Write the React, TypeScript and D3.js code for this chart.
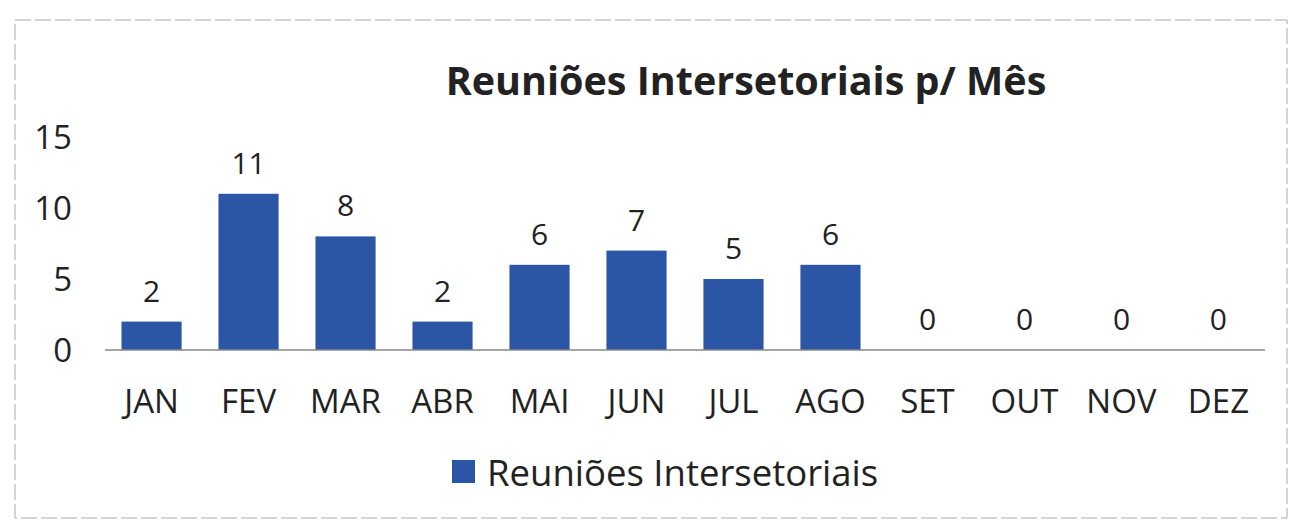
import React, { useEffect, useRef } from 'react';
import * as d3 from 'd3';

const months = ['JAN', 'FEV', 'MAR', 'ABR', 'MAI', 'JUN', 'JUL', 'AGO', 'SET', 'OUT', 'NOV', 'DEZ'];
const reunioes = [2, 11, 8, 2, 6, 7, 5, 6, 0, 0, 0, 0];
const yTicks = [0, 5, 10, 15];
const seriesName = 'Reuniões Intersetoriais';
const title = 'Reuniões Intersetoriais p/ Mês';

const BarChart = () => {
  const container = useRef(null);
  const width = 1291;
  const height = 526;

  const margins = { l: 105, r: 26, t: 137, b: 176 };
  const plotwidth = width - margins.l - margins.r;
  const plotheight = height - margins.t - margins.b;
  const barColor = '#2b56a6';
  const font = '"Open Sans", sans-serif';

  useEffect(() => {
    d3.select('body').style('margin', '0');

    const svg = d3
      .select(container.current)
      .selectAll('svg')
      .data([0])
      .join('svg')
      .attr('width', width)
      .attr('height', height)
      .style('display', 'block')
      .style('font-family', font);

    svg
      .selectAll('.frame')
      .data([0])
      .join('rect')
      .attr('class', 'frame')
      .attr('x', 15)
      .attr('y', 20)
      .attr('width', 1272)
      .attr('height', 498)
      .style('fill', 'none')
      .style('stroke', '#aaa')
      .style('stroke-dasharray', '16 4');

    const xScale = d3
      .scaleBand()
      .domain(months)
      .range([0, plotwidth])
      .paddingInner(0.38)
      .paddingOuter(0.17);

    const yScale = d3.scaleLinear().domain([0, 15]).range([plotheight, 0]);

    const plotg = svg
      .selectAll('.plotg')
      .data([0])
      .join('g')
      .attr('class', 'plotg')
      .attr('transform', `translate(${margins.l},${margins.t})`);

    // y labels (no axis line, like the excel chart)
    plotg
      .selectAll('.ytick')
      .data(yTicks)
      .join('text')
      .attr('class', 'ytick')
      .attr('x', -33)
      .attr('y', d => yScale(d))
      .attr('dy', '0.36em')
      .attr('text-anchor', 'end')
      .style('font-size', '33px')
      .style('fill', '#222')
      .text(d => d);

    plotg
      .selectAll('.bar')
      .data(reunioes)
      .join('rect')
      .attr('class', 'bar')
      .attr('x', (d, i) => xScale(months[i]))
      .attr('y', d => yScale(d))
      .attr('width', xScale.bandwidth())
      .attr('height', d => plotheight - yScale(d))
      .style('fill', barColor);

    plotg
      .selectAll('.baseline')
      .data([0])
      .join('line')
      .attr('class', 'baseline')
      .attr('x1', 0)
      .attr('x2', plotwidth)
      .attr('y1', plotheight)
      .attr('y2', plotheight)
      .style('stroke', '#888')
      .style('stroke-width', 1.5);

    plotg
      .selectAll('.vlabel')
      .data(reunioes)
      .join('text')
      .attr('class', 'vlabel')
      .attr('x', (d, i) => xScale(months[i]) + xScale.bandwidth() / 2)
      .attr('y', d => yScale(d) - 20)
      .attr('text-anchor', 'middle')
      .style('font-size', '30px')
      .style('fill', '#222')
      .text(d => d);

    plotg
      .selectAll('.xlabel')
      .data(months)
      .join('text')
      .attr('class', 'xlabel')
      .attr('x', d => xScale(d) + xScale.bandwidth() / 2)
      .attr('y', plotheight + 63)
      .attr('text-anchor', 'middle')
      .style('font-size', '33px')
      .style('fill', '#222')
      .text(d => d);

    svg
      .selectAll('.title-text')
      .data([0])
      .join('text')
      .attr('class', 'title-text')
      .attr('x', 746)
      .attr('y', 95)
      .attr('text-anchor', 'middle')
      .style('font-size', '39.5px')
      .style('font-weight', 'bold')
      .style('fill', '#222')
      .text(title);

    const legendg = svg
      .selectAll('.legendg')
      .data([0])
      .join('g')
      .attr('class', 'legendg')
      .attr('transform', `translate(452,460)`);
    legendg
      .selectAll('rect')
      .data([0])
      .join('rect')
      .attr('width', 23)
      .attr('height', 23)
      .style('fill', barColor);
    legendg
      .selectAll('text')
      .data([seriesName])
      .join('text')
      .attr('x', 35)
      .attr('y', 26)
      .style('font-size', '36.5px')
      .style('fill', '#222')
      .text(d => d);
  }, []);

  return <div className="chart-container" ref={container}></div>;
};

export default function App() {
  return <BarChart />;
}
